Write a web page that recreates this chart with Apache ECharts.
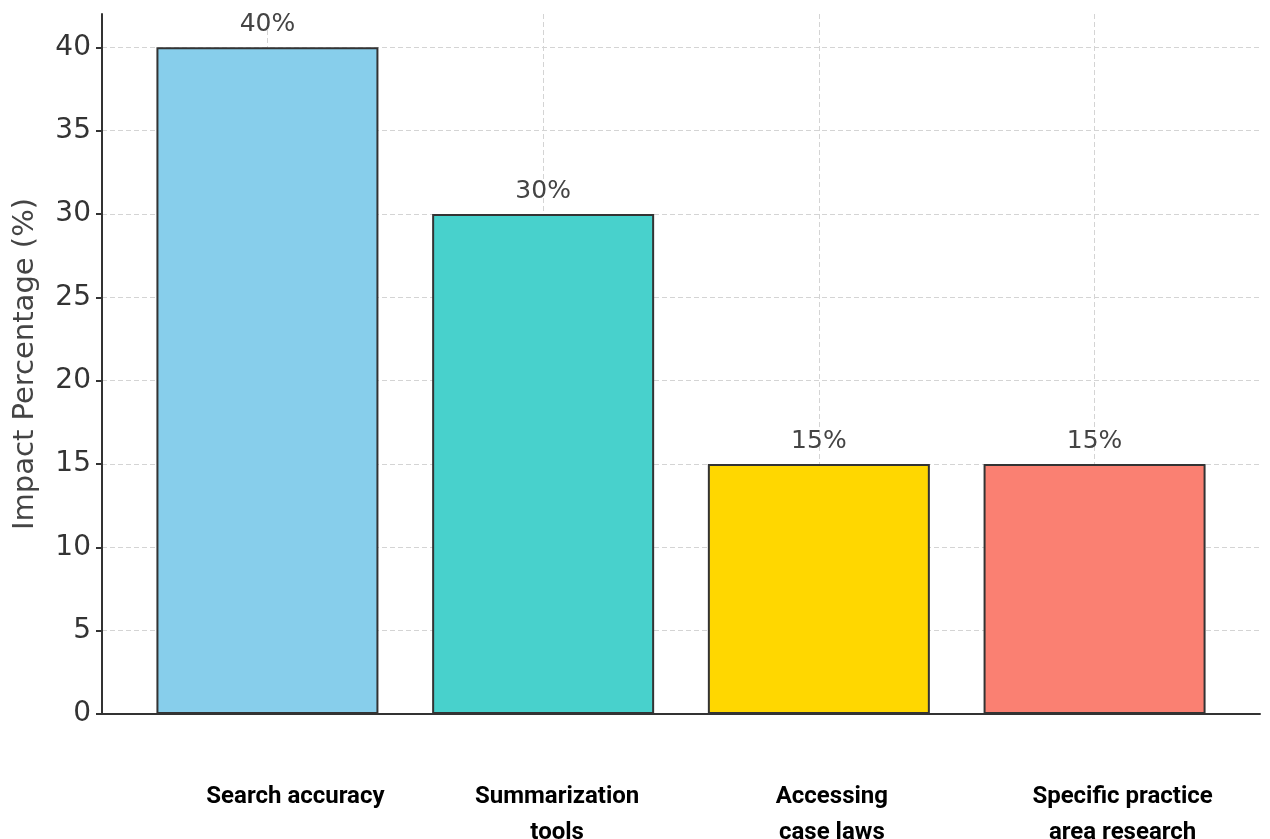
<!DOCTYPE html>
<html>
<head>
<meta charset="utf-8">
<script src="https://cdn.jsdelivr.net/npm/echarts@6/dist/echarts.min.js"></script>
<style>
  html, body { margin: 0; padding: 0; background: #fff; }
  #chart { width: 1270px; height: 839px; }
</style>
</head>
<body>
<div id="chart"></div>
<script>
// data
var categories = ['Search accuracy', 'Summarization\ntools', 'Accessing\ncase laws', 'Specific practice\narea research'];
var impact = [40, 30, 15, 15];
var barColors = ['#87CEEB', '#48D1CC', '#FFD700', '#FA8072'];
var yTicks = [0, 5, 10, 15, 20, 25, 30, 35, 40];

// the category labels sit a little right of their bars in the original
var labelShift = [28, 14, 13, 28];

var positions = categories.map(function (c, i) { return i; });

var labelRich = {};
labelShift.forEach(function (s, i) {
  labelRich['o' + i] = {
    fontFamily: 'Roboto',
    fontWeight: 'bold',
    fontSize: 24,
    lineHeight: 36,
    color: '#000',
    padding: [0, 0, 0, s * 2]
  };
});

var chart = echarts.init(document.getElementById('chart'));

var gridLine = {
  show: true,
  lineStyle: { color: '#d4d4d4', type: [5, 3], width: 1 }
};

chart.setOption({
  animation: false,
  grid: { left: 102, right: 10, top: 14, bottom: 125, outerBoundsMode: 'none' },
  xAxis: {
    type: 'value',
    min: -0.6,
    max: 3.6,
    axisLine: { show: true, lineStyle: { color: '#333', width: 2 } },
    axisTick: { show: true, inside: true, length: 5, customValues: positions, lineStyle: { color: '#333', width: 2 } },
    axisLabel: {
      customValues: positions,
      margin: 65,
      hideOverlap: false,
      formatter: function (v) {
        var i = Math.round(v);
        return categories[i].split('\n').map(function (line) {
          return '{o' + i + '|' + line + '}';
        }).join('\n');
      },
      rich: labelRich
    },
    splitLine: gridLine
  },
  yAxis: {
    type: 'value',
    min: 0,
    max: 42,
    name: 'Impact Percentage (%)',
    nameLocation: 'middle',
    nameGap: 62,
    nameTextStyle: { fontFamily: 'DejaVu Sans', fontSize: 29, color: '#444' },
    axisLine: { show: true, onZero: false, lineStyle: { color: '#333', width: 2 } },
    axisTick: { show: true, length: 6, customValues: yTicks, lineStyle: { color: '#333', width: 2 } },
    axisLabel: {
      customValues: yTicks,
      margin: 11,
      fontFamily: 'DejaVu Sans',
      fontSize: 28,
      color: '#333'
    },
    splitLine: gridLine
  },
  series: [{
    type: 'bar',
    barWidth: 222,
    data: impact.map(function (v, i) {
      return { value: [i, v], itemStyle: { color: barColors[i] } };
    }),
    itemStyle: { borderColor: '#333', borderWidth: 2 },
    label: {
      show: true,
      position: 'top',
      distance: 10,
      fontFamily: 'DejaVu Sans',
      fontSize: 25,
      color: '#444',
      formatter: function (p) { return p.value[1] + '%'; }
    }
  }]
});
</script>
</body>
</html>
